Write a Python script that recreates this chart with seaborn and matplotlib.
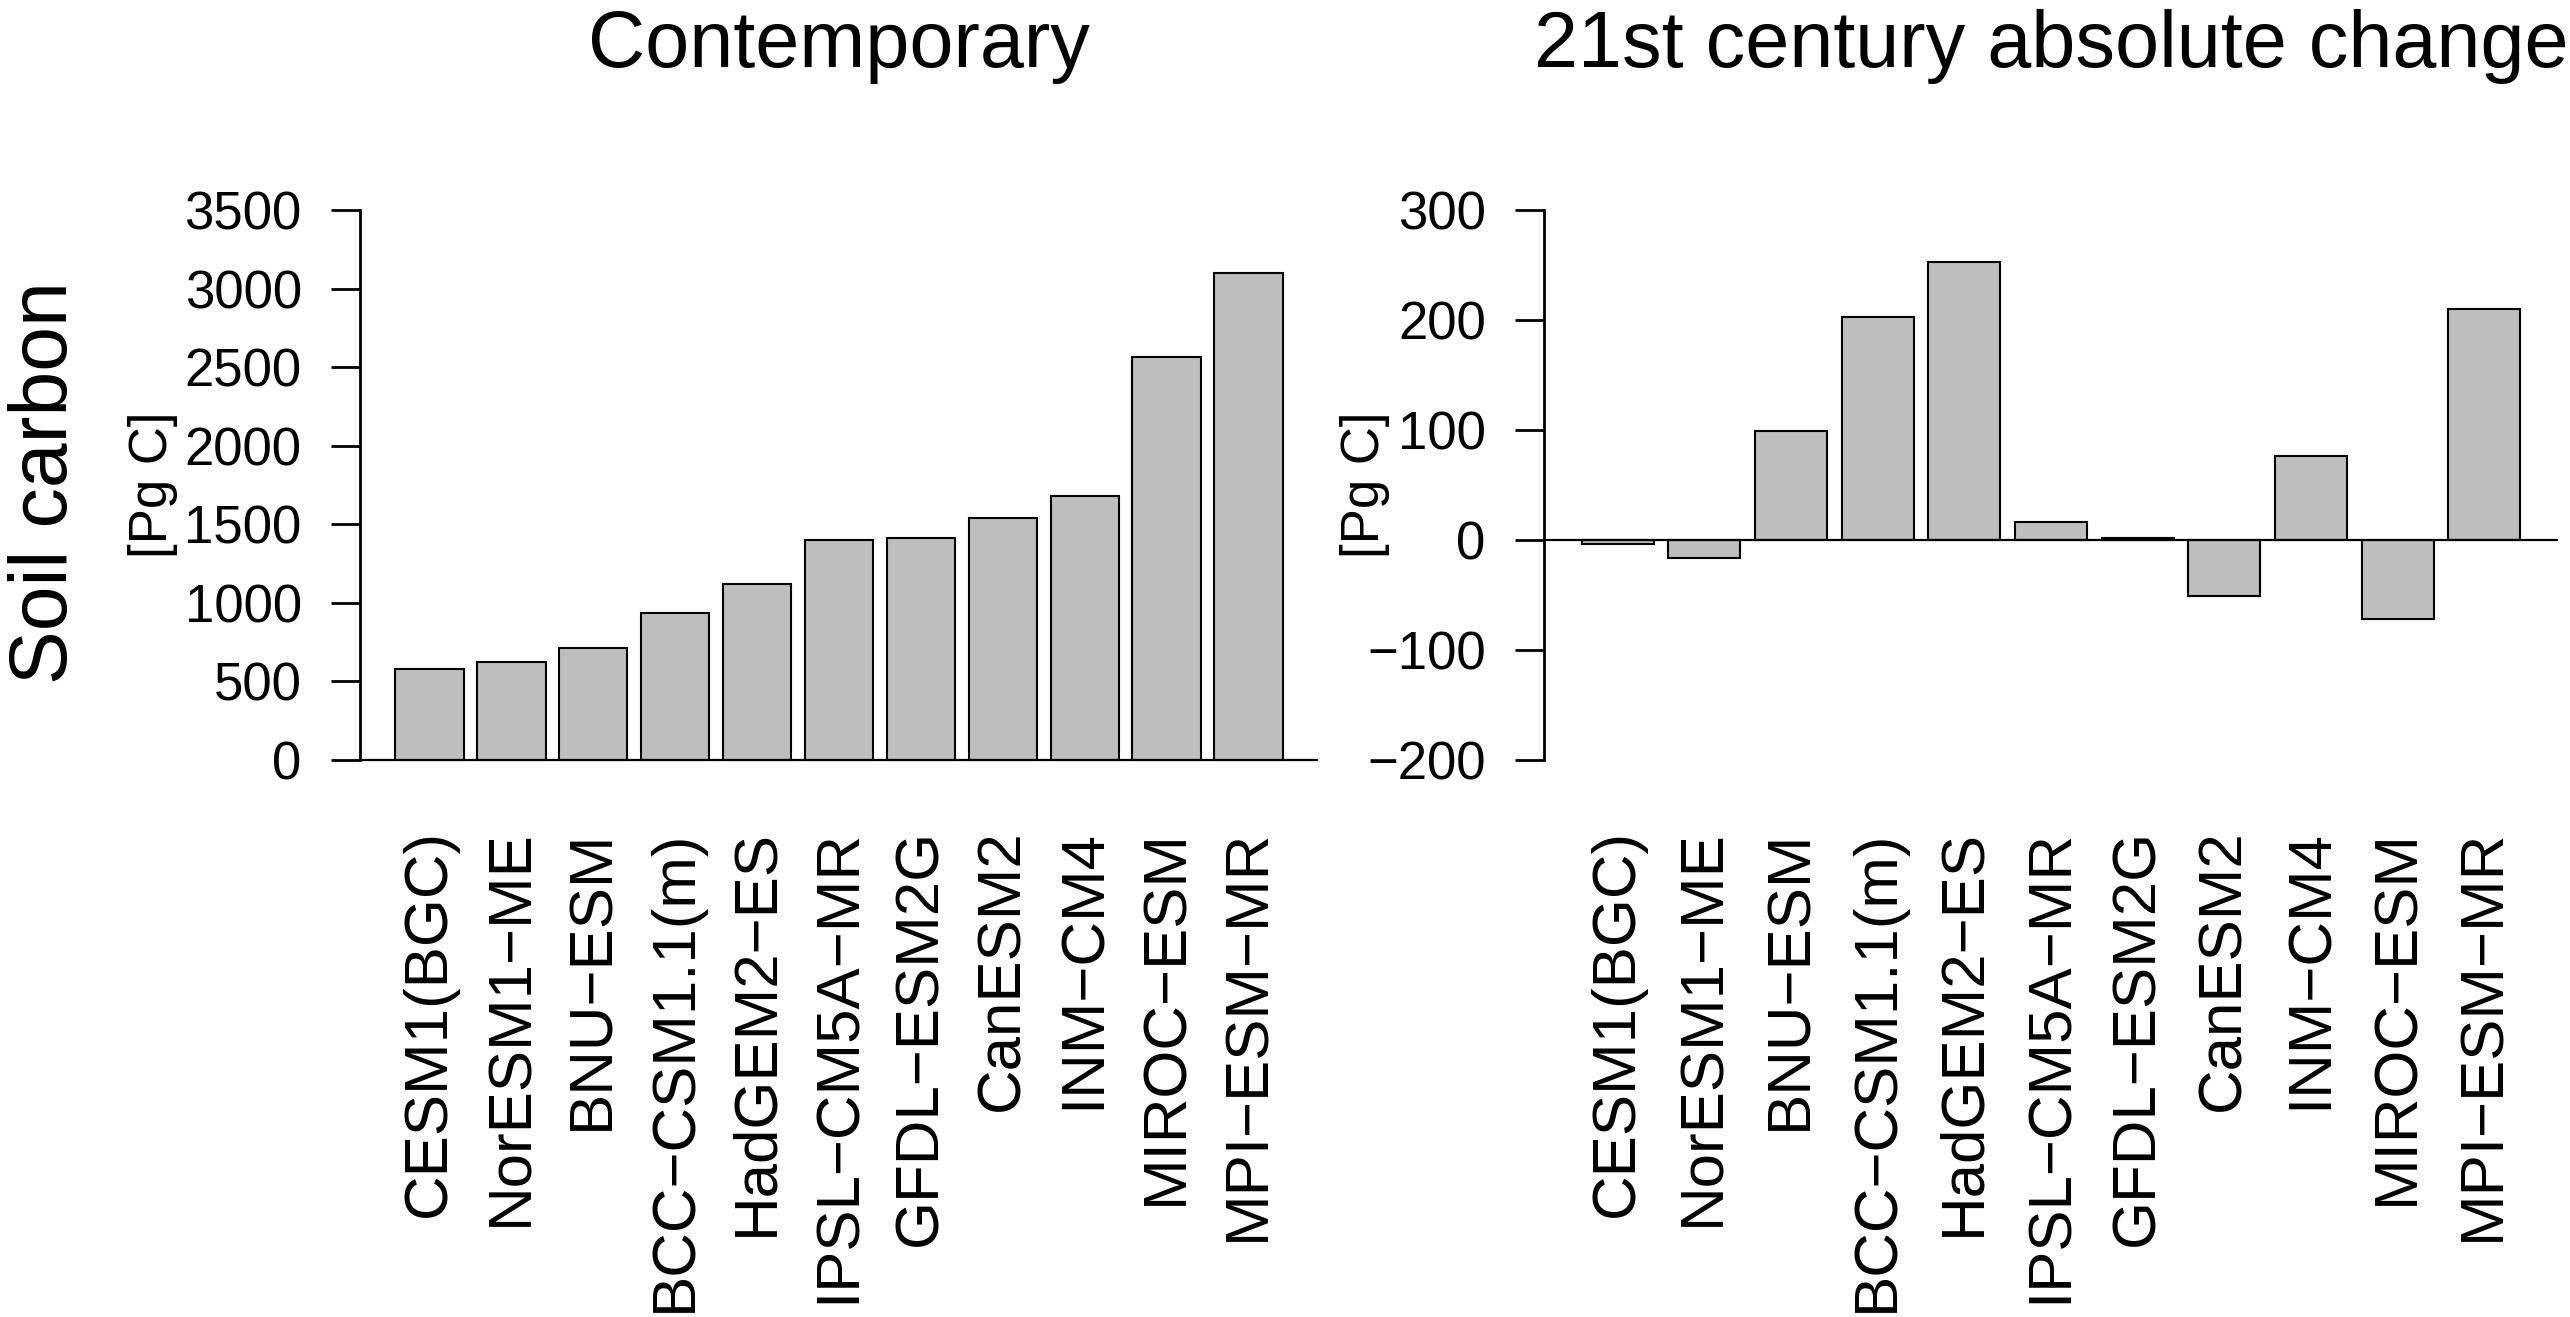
import matplotlib
matplotlib.use("Agg")
import matplotlib.pyplot as plt
import seaborn as sns
import pandas as pd

# Earth system models, ordered by contemporary soil carbon stock
models = ["CESM1(BGC)", "NorESM1−ME", "BNU−ESM", "BCC−CSM1.1(m)", "HadGEM2−ES",
          "IPSL−CM5A−MR", "GFDL−ESM2G", "CanESM2", "INM−CM4", "MIROC−ESM", "MPI−ESM−MR"]

# Contemporary soil carbon [Pg C]
contemporary = [577, 621, 711, 933, 1123, 1398, 1413, 1542, 1683, 2565, 3101]

# 21st century absolute change in soil carbon [Pg C]
change = [-4, -16, 99, 203, 253, 16, 2, -51, 76, -72, 210]

left_ticks = [0, 500, 1000, 1500, 2000, 2500, 3000, 3500]
right_ticks = [-200, -100, 0, 100, 200, 300]

sns.set_style("ticks")
plt.rcParams["font.family"] = ["Liberation Sans", "DejaVu Sans"]
plt.rcParams["axes.unicode_minus"] = True
for key in ["text.color", "axes.labelcolor", "xtick.color", "ytick.color",
            "axes.edgecolor", "xtick.labelcolor", "ytick.labelcolor"]:
    plt.rcParams[key] = "black"

W, H = 2570, 1317
DPI = 100
fig = plt.figure(figsize=(W / DPI, H / DPI), dpi=DPI)
fig.patch.set_facecolor("white")

def fx(px):
    return px / W

def fy(py):
    return 1 - py / H

ax_top, ax_bot = 188, 782
ax1 = fig.add_axes([fx(360), fy(ax_bot), fx(1318 - 360), (ax_bot - ax_top) / H])
ax2 = fig.add_axes([fx(1544), fy(ax_bot), fx(2558 - 1544), (ax_bot - ax_top) / H])

df1 = pd.DataFrame({"model": models, "value": contemporary})
df2 = pd.DataFrame({"model": models, "value": change})

bar_kw = dict(color="#BEBEBE", edgecolor="black", linewidth=1.5,
              width=1 / 1.2, saturation=1, order=models)

sns.barplot(data=df1, x="model", y="value", ax=ax1, **bar_kw)
sns.barplot(data=df2, x="model", y="value", ax=ax2, **bar_kw)

def fmt(t):
    return f"{t:d}".replace("-", "\u2212")

for ax, ticks, lims in [(ax1, left_ticks, (-140, 3640)), (ax2, right_ticks, (-220, 320))]:
    ax.set_facecolor("white")
    ax.set_xlim(-0.85, 10.85)
    ax.set_ylim(*lims)
    ax.axhline(0, color="black", lw=1.6, zorder=3)
    ax.set_yticks(ticks)
    ax.set_yticklabels([fmt(t) for t in ticks])
    for s in ["top", "right", "bottom"]:
        ax.spines[s].set_visible(False)
    ax.spines["left"].set_bounds(ticks[0], ticks[-1])
    ax.spines["left"].set_linewidth(2.0)
    ax.spines["left"].set_color("black")
    ax.tick_params(axis="y", length=21, width=2.0, pad=21, labelsize=38,
                   colors="black")
    ax.tick_params(axis="x", length=0, pad=34, labelsize=44.5, labelrotation=90,
                   colors="black")
    for lab in ax.get_xticklabels():
        lab.set_ha("center")
        lab.set_va("top")
    ax.set_xlabel("")
    ax.set_ylabel("")
    ax.grid(False)

# Unit labels beside each value axis
fig.text(fx(167), fy(485), "[Pg C]", rotation=90, rotation_mode="anchor",
         ha="center", va="baseline", fontsize=38, color="black")
fig.text(fx(1379), fy(485), "[Pg C]", rotation=90, rotation_mode="anchor",
         ha="center", va="baseline", fontsize=38, color="black")

# Row label
fig.text(fx(67), fy(483), "Soil carbon", rotation=90, rotation_mode="anchor",
         ha="center", va="baseline", fontsize=58, color="black")

# Panel titles
fig.text(fx(839), fy(67), "Contemporary", ha="center", va="baseline",
         fontsize=57, color="black")
fig.text(fx(2051), fy(67), "21st century absolute change", ha="center",
         va="baseline", fontsize=57, color="black")

fig.savefig("out.png", dpi=DPI, facecolor="white")
